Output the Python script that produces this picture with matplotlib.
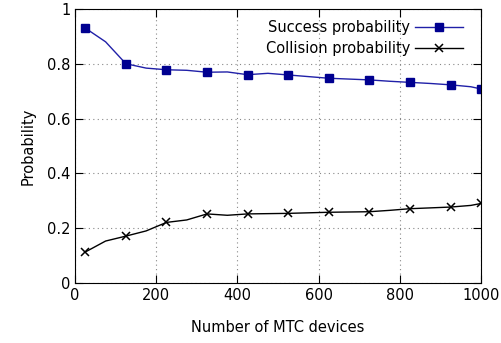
import matplotlib.pyplot as plt

# Daten
devices = [25, 75, 125, 175, 225, 275, 325, 375, 425, 475, 525, 575, 625, 675,
           725, 775, 825, 875, 925, 975, 1000]
success = [0.93, 0.88, 0.80, 0.784, 0.778, 0.776, 0.769, 0.770, 0.760, 0.765,
           0.759, 0.753, 0.747, 0.744, 0.741, 0.736, 0.732, 0.728, 0.723, 0.716, 0.708]
collision = [0.113, 0.153, 0.171, 0.19, 0.221, 0.23, 0.252, 0.247, 0.252, 0.253,
             0.254, 0.256, 0.258, 0.259, 0.26, 0.265, 0.271, 0.274, 0.277, 0.283, 0.29]
xticks = [0, 200, 400, 600, 800, 1000]
yticks = [0, 0.2, 0.4, 0.6, 0.8, 1]

fig = plt.figure(figsize=(5.01, 3.43), dpi=100)
ax = fig.add_axes([0.15, 0.175, 0.81, 0.799])

every = list(range(0, 21, 2))
ax.plot(devices, success, color='#2020a8', lw=1.0, marker='s', ms=5.5,
        mfc='#000090', mec='#000090', markevery=every,
        label='Success probability')
ax.plot(devices, collision, color='black', lw=1.0, marker='x', ms=6, mew=1.1,
        markevery=every, label='Collision probability')

ax.set_xlim(0, 1000)
ax.set_ylim(0, 1)
ax.set_xticks(xticks)
ax.set_yticks(yticks)
ax.set_yticklabels(['0', '0.2', '0.4', '0.6', '0.8', '1'])
ax.tick_params(direction='in', length=6, top=True, right=True, labelsize=10.5)
ax.grid(True, linestyle=(0, (1, 3)), color='#888888', lw=0.8)

ax.set_xlabel('Number of MTC devices', fontsize=10.5, labelpad=12)
ax.set_ylabel('Probability', fontsize=10.5, labelpad=8)

ax.legend(loc='upper right', bbox_to_anchor=(0.97, 0.98), borderaxespad=0,
          frameon=False, markerfirst=False, fontsize=10.5, handlelength=3.3,
          handletextpad=0.3, labelspacing=0.4)

plt.savefig('out.png', dpi=100)
